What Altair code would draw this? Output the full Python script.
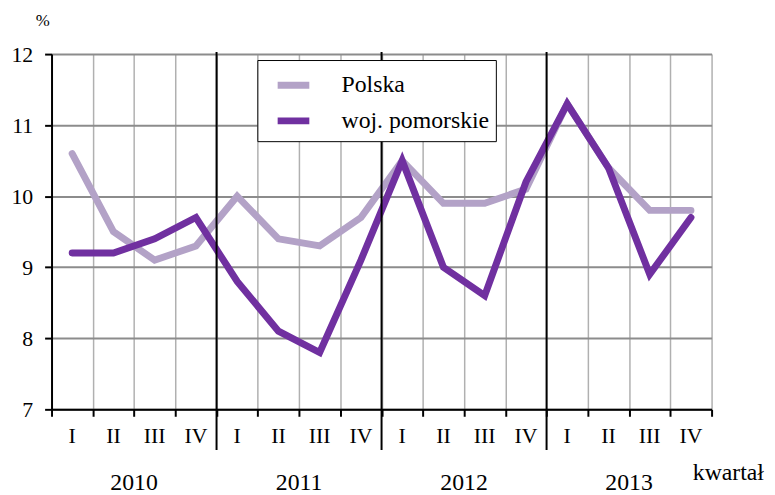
import altair as alt
import pandas as pd

quarters = ["I", "II", "III", "IV"]
years = ["2010", "2011", "2012", "2013"]
series = ["Polska", "woj. pomorskie"]
colors = ["#b3a2c7", "#7030a0"]
polska = [10.6, 9.5, 9.1, 9.3, 10.0, 9.4, 9.3, 9.7, 10.5, 9.9, 9.9, 10.1, 11.3, 10.4, 9.8, 9.8]
pomorskie = [9.2, 9.2, 9.4, 9.7, 8.8, 8.1, 7.8, 9.1, 10.5, 9.0, 8.6, 10.2, 11.3, 10.4, 8.9, 9.7]
y_ticks = [7, 8, 9, 10, 11, 12]

rows = []
for name, vals in zip(series, [polska, pomorskie]):
    for i, v in enumerate(vals):
        rows.append({"pos": i + 0.5, "value": v, "series": name})
df = pd.DataFrame(rows)

n = len(polska)
qdf = pd.DataFrame({"pos": [i + 0.5 for i in range(n)],
                    "label": [quarters[i % 4] for i in range(n)]})
ydf = pd.DataFrame({"pos": [4 * k + 2 for k in range(len(years))], "label": years})
sep = pd.DataFrame({"pos": [4, 8, 12]})

W, H = 667, 359
FONT = "Liberation Serif"

xs = alt.Scale(domain=[0, n], nice=False, zero=False)
ysc = alt.Scale(domain=[7, 12], nice=False, zero=False)
xaxis = alt.Axis(values=list(range(n + 1)), labels=False, title=None, grid=True,
                 gridColor="#b0b0b0", gridWidth=1.5, domainColor="black", domainWidth=2,
                 tickColor="black", tickWidth=2, tickSize=7)
yaxis = alt.Axis(values=y_ticks, title=None, grid=True, gridColor="#8c8c8c", gridWidth=2,
                 domainColor="black", domainWidth=2, tickColor="black", tickWidth=2,
                 tickSize=7, labelFont=FONT, labelFontSize=22, labelColor="black",
                 labelPadding=12)

lines = alt.Chart(df).mark_line(strokeWidth=7, strokeCap="round", strokeJoin="miter").encode(
    x=alt.X("pos:Q", scale=xs, axis=xaxis),
    y=alt.Y("value:Q", scale=ysc, axis=yaxis),
    color=alt.Color("series:N", scale=alt.Scale(domain=series, range=colors),
                    legend=alt.Legend(title=None, orient="none", legendX=208, legendY=6,
                                      symbolType="stroke", symbolStrokeWidth=7,
                                      symbolSize=1024, labelFont=FONT, labelFontSize=24,
                                      labelColor="black", labelOffset=29, padding=6,
                                      strokeColor="black", fillColor="white",
                                      rowPadding=2, symbolOffset=11)),
)

rules = alt.Chart(sep).mark_rule(color="black", strokeWidth=2).encode(
    x=alt.X("pos:Q", scale=xs, axis=xaxis),
    y=alt.value(-2),
    y2=alt.value(H + 41),
)

qtext = alt.Chart(qdf).mark_text(font=FONT, fontSize=22, baseline="middle", color="black").encode(
    x=alt.X("pos:Q", scale=xs, axis=xaxis),
    y=alt.value(386),
    text="label:N",
)

ytext = alt.Chart(ydf).mark_text(font=FONT, fontSize=24, baseline="middle", color="black").encode(
    x=alt.X("pos:Q", scale=xs, axis=xaxis),
    y=alt.value(434),
    text="label:N",
)

pct = alt.Chart(pd.DataFrame({"t": ["%"]})).mark_text(font=FONT, fontSize=17, color="black").encode(
    x=alt.value(-9), y=alt.value(-33), text="t:N")

kw = alt.Chart(pd.DataFrame({"t": ["kwartał"]})).mark_text(
    font=FONT, fontSize=24, color="black", align="left", baseline="middle").encode(
    x=alt.value(648), y=alt.value(423), text="t:N")

chart = alt.layer(lines, rules, qtext, ytext, pct, kw).properties(
    width=W, height=H,
    autosize=alt.AutoSizeParams(type="none"),
    padding={"left": 44, "top": 44, "right": 56, "bottom": 86},
).configure(background="white", font=FONT).configure_view(stroke=None).configure_axis(
    labelFont=FONT).configure_legend(labelFont=FONT)

chart.save("out.html", embed_options={"renderer": "svg", "actions": False})
